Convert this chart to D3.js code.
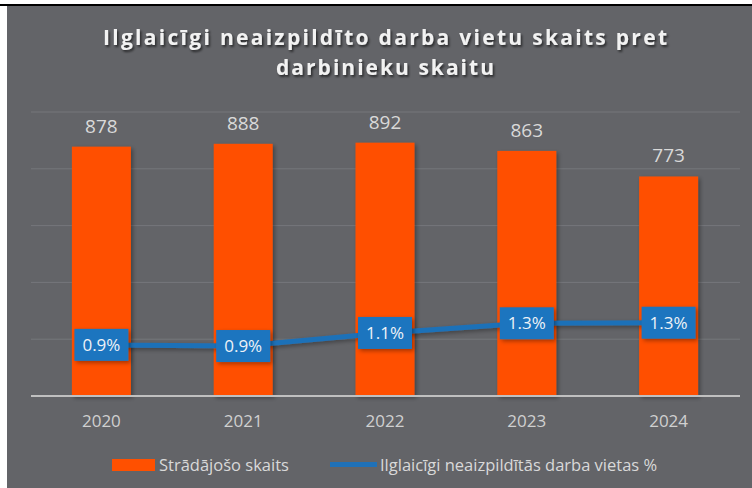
<!DOCTYPE html>
<html>
<head>
<meta charset="utf-8">
<script src="https://cdn.jsdelivr.net/npm/d3@7"></script>
<style>
  body { margin: 0; background: #fff; }
  text { font-family: "Open Sans", sans-serif; }
</style>
</head>
<body>
<div id="paper"></div>
<script>
// data
var years = ['2020', '2021', '2022', '2023', '2024']
var workers = [878, 888, 892, 863, 773]            // Strādājošo skaits
var vacancyPct = [0.90, 0.88, 1.11, 1.28, 1.29]    // Ilglaicīgi neaizpildītās darba vietas %
var gridTicks = [0, 200, 400, 600, 800, 1000]
var titleLines = ['Ilglaicīgi neaizpildīto darba vietu skaits pret', 'darbinieku skaitu']
var legendLabels = ['Strādājošo skaits', 'Ilglaicīgi neaizpildītās darba vietas %']

var W = 752, H = 488
var orange = '#ff5000', blue = '#1f71b8', boxBlue = '#1f75bf', bg = '#636468'

var svg = d3.select('#paper').append('svg')
    .attr('width', W).attr('height', H)

var defs = svg.append('defs')
var sh = defs.append('filter').attr('id', 'shadow')
    .attr('x', '-20%').attr('y', '-20%').attr('width', '150%').attr('height', '150%')
sh.append('feDropShadow').attr('dx', 2).attr('dy', 2).attr('stdDeviation', 2)
    .attr('flood-color', '#000').attr('flood-opacity', 0.35)
var tsh = defs.append('filter').attr('id', 'tshadow')
    .attr('x', '-5%').attr('y', '-30%').attr('width', '110%').attr('height', '160%')
tsh.append('feDropShadow').attr('dx', 1.5).attr('dy', 2).attr('stdDeviation', 1)
    .attr('flood-color', '#000').attr('flood-opacity', 0.6)

// frame: white page, black top rule, gray chart area
svg.append('rect').attr('width', W).attr('height', H).attr('fill', '#fff')
svg.append('rect').attr('x', 0).attr('y', 4).attr('width', W).attr('height', 2).attr('fill', '#000')
svg.append('rect').attr('x', 7).attr('y', 6).attr('width', W - 7).attr('height', H - 6).attr('fill', bg)

var x = d3.scaleBand().domain(years).range([30.5, 739.5])
    .paddingInner(0.584).paddingOuter(0.292)
var y = d3.scaleLinear().domain([0, 1000]).range([396, 112])
var y2 = d3.scaleLinear().domain([0, 5]).range([396, 112])

// title
svg.append('g').attr('filter', 'url(#tshadow)')
    .selectAll('text').data(titleLines).join('text')
    .attr('x', 385)
    .attr('y', function(d, i) { return 45 + i * 30 })
    .attr('text-anchor', 'middle')
    .attr('font-size', 21).attr('font-weight', 'bold')
    .attr('fill', '#f2f2f2')
    .attr('textLength', function(d, i) { return i == 0 ? 564 : 218 })
    .attr('lengthAdjust', 'spacing')
    .text(function(d) { return d })

// gridlines
svg.append('g').selectAll('line').data(gridTicks.slice(1)).join('line')
    .attr('x1', 31).attr('x2', 740)
    .attr('y1', function(d) { return y(d) }).attr('y2', function(d) { return y(d) })
    .attr('stroke', '#76777b').attr('stroke-width', 1)

// bars
svg.append('g').attr('filter', 'url(#shadow)')
    .selectAll('rect').data(workers).join('rect')
    .attr('x', function(d, i) { return x(years[i]) })
    .attr('y', function(d) { return y(d) })
    .attr('width', x.bandwidth())
    .attr('height', function(d) { return y(0) - y(d) })
    .attr('fill', orange)

// baseline
svg.append('line').attr('x1', 31).attr('x2', 740).attr('y1', y(0)).attr('y2', y(0))
    .attr('stroke', '#c0c0c0').attr('stroke-width', 2)

// bar value labels
svg.append('g').selectAll('text').data(workers).join('text')
    .attr('x', function(d, i) { return x(years[i]) + x.bandwidth() / 2 })
    .attr('y', function(d) { return y(d) - 14 })
    .attr('text-anchor', 'middle').attr('font-size', 19)
    .attr('fill', '#d9d9d9')
    .text(function(d) { return d })

// x axis labels
var xAxis = svg.append('g').attr('transform', 'translate(0,' + 396 + ')')
    .call(d3.axisBottom(x).tickSize(0).tickPadding(0))
xAxis.select('.domain').remove()
xAxis.selectAll('text')
    .attr('y', 31).attr('dy', 0)
    .attr('font-family', '"Open Sans", sans-serif')
    .attr('font-size', 17).attr('fill', '#d0d0d0')

// line series
var cx = function(i) { return x(years[i]) + x.bandwidth() / 2 }
var line = d3.line()
    .x(function(d, i) { return cx(i) })
    .y(function(d) { return y2(d) })
svg.append('path').datum(vacancyPct)
    .attr('d', line)
    .attr('fill', 'none').attr('stroke', blue).attr('stroke-width', 5)
    .attr('filter', 'url(#shadow)')

// line labels in blue boxes
var lbl = svg.append('g').selectAll('g').data(vacancyPct).join('g')
    .attr('transform', function(d, i) { return 'translate(' + cx(i) + ',' + y2(d) + ')' })
lbl.append('rect')
    .attr('x', -27).attr('y', -16).attr('width', 54).attr('height', 32)
    .attr('fill', boxBlue).attr('filter', 'url(#shadow)')
lbl.append('text')
    .attr('text-anchor', 'middle').attr('y', 6)
    .attr('font-size', 17).attr('fill', '#eef2f7')
    .text(function(d) { return d3.format('.1f')(d) + '%' })

// legend
var lg = svg.append('g')
lg.append('rect').attr('x', 112).attr('y', 459).attr('width', 43).attr('height', 12).attr('fill', orange)
lg.append('text').attr('x', 159).attr('y', 470.5).attr('font-size', 16.5).attr('fill', '#d9d9d9')
    .text(legendLabels[0])
lg.append('line').attr('x1', 330).attr('x2', 377).attr('y1', 464.5).attr('y2', 464.5)
    .attr('stroke', blue).attr('stroke-width', 5)
lg.append('text').attr('x', 380).attr('y', 470.5).attr('font-size', 16.5).attr('fill', '#d9d9d9')
    .text(legendLabels[1])
</script>
</body>
</html>
